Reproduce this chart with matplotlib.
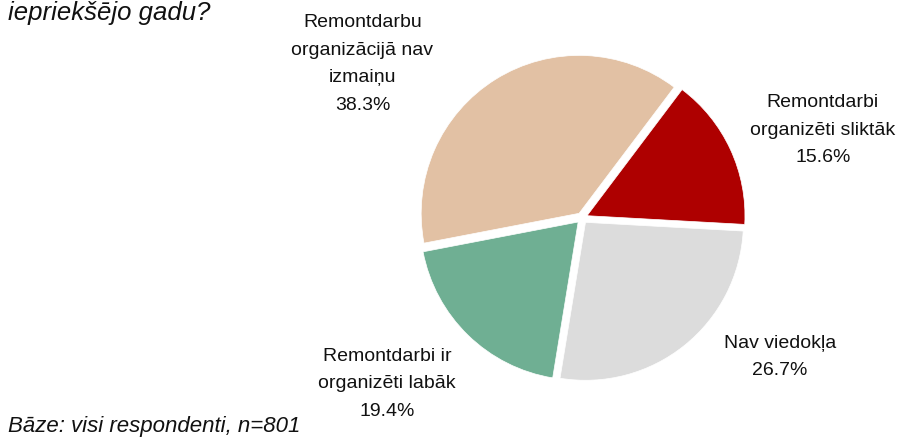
# pie chart of opinions on renovation organisation
import numpy as np
import matplotlib.pyplot as plt

plt.rcParams['font.family'] = ['Liberation Sans', 'DejaVu Sans']

labels = ['Remontdarbi\norganizēti sliktāk', 'Nav viedokļa',
          'Remontdarbi ir\norganizēti labāk', 'Remontdarbu\norganizācijā nav\nizmaiņu']
shares = [15.6, 26.7, 19.4, 38.3]
colors = ['#AE0000', '#DCDCDC', '#6FAF93', '#E2C1A4']
label_pos = [(1.525, 0.557), (1.253, -0.880), (-1.234, -1.050), (-1.39, 0.975)]

fig = plt.figure(figsize=(9.07, 4.38), dpi=100)
ax = fig.add_axes([0.4212, 0.0457, 0.441, 0.913])

ax.pie(shares, colors=colors, startangle=53, counterclock=False,
       explode=[0.035] * 4, wedgeprops=dict(edgecolor='white', linewidth=0.5))
ax.set_xlim(-1.266, 1.266)
ax.set_ylim(-1.266, 1.266)
ax.set_aspect('equal')
ax.axis('off')

for lab, val, (x, y) in zip(labels, shares, label_pos):
    ax.text(x, y, f'{lab}\n{val:.1f}%', ha='center', va='center',
            fontsize=14, linespacing=1.8, color='#111111', clip_on=False)

fig.text(8 / 907, 1 - 20 / 438, 'iepriekšējo gadu?', fontsize=18.5,
         style='italic', ha='left', va='baseline', color='#111111')
fig.text(8 / 907, 1 - 432 / 438, 'Bāze: visi respondenti, n=801', fontsize=16,
         style='italic', ha='left', va='baseline', color='#111111')

fig.savefig('out.png', dpi=100)
